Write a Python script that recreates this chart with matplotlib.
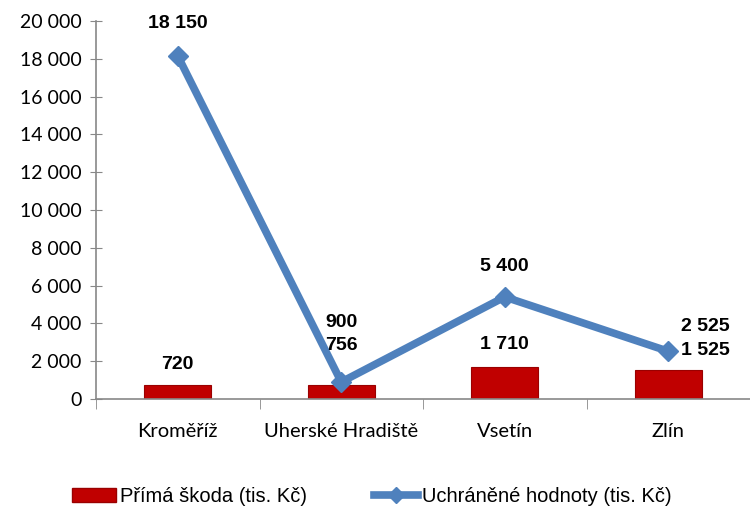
import matplotlib.pyplot as plt
from matplotlib.lines import Line2D
from matplotlib.patches import Patch

districts = ["Kroměříž", "Uherské Hradiště", "Vsetín", "Zlín"]
prima_skoda = [720, 756, 1710, 1525]
uchranene = [18150, 900, 5400, 2525]

# label offsets in pixels (dx, dy) from bar top / line point
bar_offsets = [(0, 21), (0, 39), (0, 22), (37, 20)]
line_offsets = [(0, 32), (0, 59), (0, 30), (37, 25)]


def fmt(v):
    return f"{v:,}".replace(",", " ")


fig = plt.figure(figsize=(7.5, 5.12), dpi=100)
ax = fig.add_axes([0.128, 0.2207, 0.872, 0.7383])

x = list(range(len(districts)))
ax.bar(x, prima_skoda, width=0.41, color="#C00000", edgecolor="#9a0000",
       linewidth=0.8, zorder=2)
ax.plot(x, uchranene, color="#4F81BD", linewidth=5.5, marker="D",
        markersize=10, zorder=3, solid_joinstyle="miter")

for i in x:
    dx, dy = bar_offsets[i]
    ax.annotate(fmt(prima_skoda[i]), (i, prima_skoda[i]), xytext=(dx, dy),
                textcoords="offset pixels", ha="center", va="center",
                fontsize=14, fontweight="bold", family="Liberation Sans")
    dx, dy = line_offsets[i]
    ax.annotate(fmt(uchranene[i]), (i, uchranene[i]), xytext=(dx, dy),
                textcoords="offset pixels", ha="center", va="center",
                fontsize=14, fontweight="bold", family="Liberation Sans")

ax.set_xlim(-0.5, 3.5)
ax.set_ylim(0, 20000)
ax.set_yticks(range(0, 20001, 2000))
ax.set_yticklabels([fmt(v) for v in range(0, 20001, 2000)],
                   fontsize=14, family="Lato")
ax.set_xticks(x)
ax.set_xticklabels(districts, fontsize=14.5, family="Lato")
ax.set_xticks([-0.5, 0.5, 1.5, 2.5, 3.5], minor=True)
ax.tick_params(axis="x", which="major", length=0, pad=17)
ax.tick_params(axis="x", which="minor", length=7, color="#888888",
               direction="out")
ax.tick_params(axis="y", length=9, direction="inout", color="#888888", pad=6)

for s in ["top", "right"]:
    ax.spines[s].set_visible(False)
for s in ["left", "bottom"]:
    ax.spines[s].set_color("#888888")
    ax.spines[s].set_linewidth(1.2)

handles = [Patch(facecolor="#C00000", edgecolor="#9a0000"),
           Line2D([], [], color="#4F81BD", linewidth=5.5, marker="D",
                  markersize=8)]
fig.legend(handles, ["Přímá škoda (tis. Kč)", "Uchráněné hodnoty (tis. Kč)"],
           loc="center", bbox_to_anchor=(0.496, 0.03), ncol=2, frameon=False,
           prop={"family": "Liberation Sans", "size": 14.5},
           handlelength=2.2, handletextpad=0.2, columnspacing=3.3)

fig.savefig("out.png", dpi=100)
